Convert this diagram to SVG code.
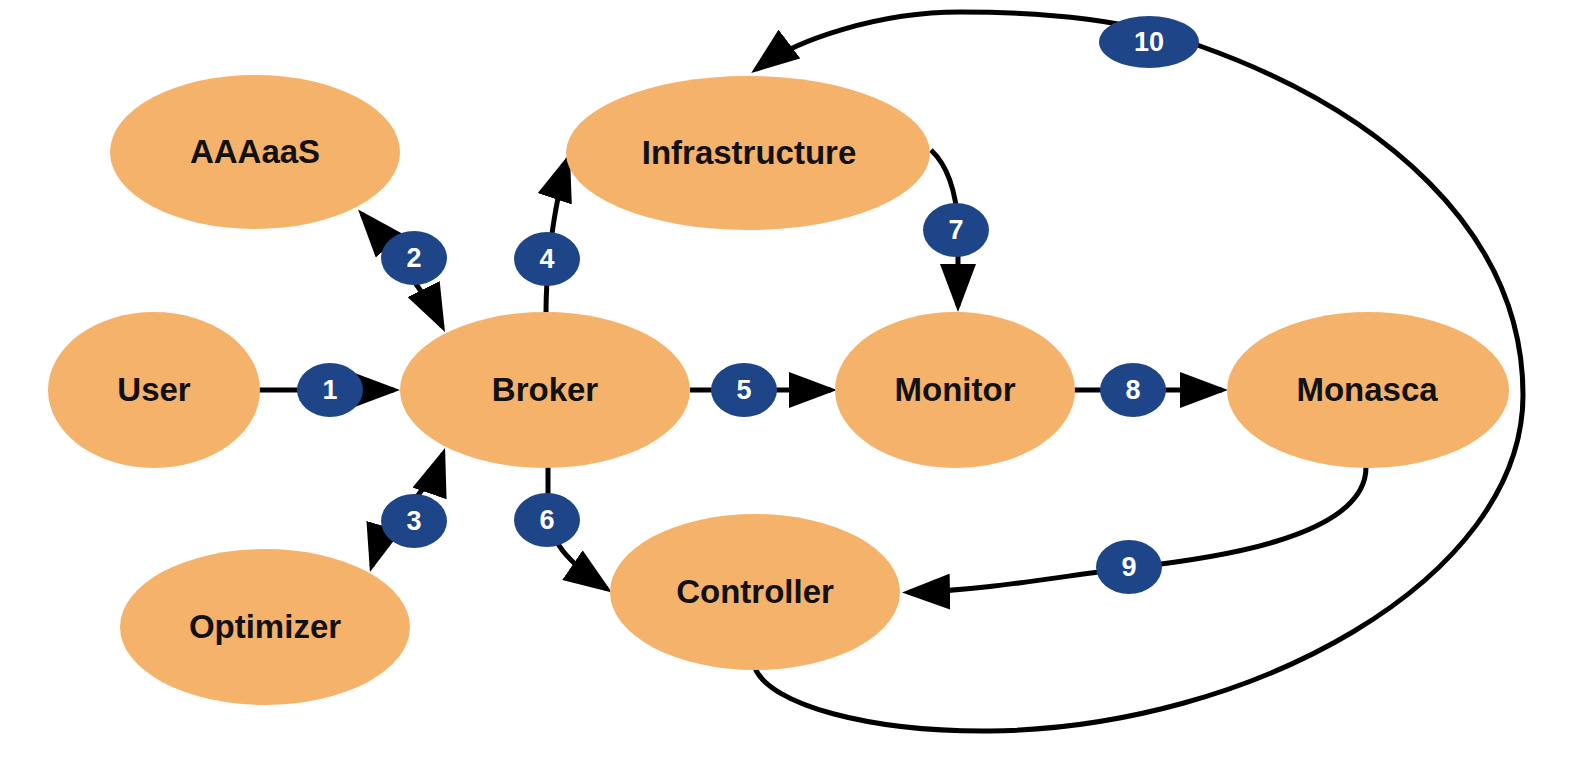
<svg xmlns="http://www.w3.org/2000/svg" width="1575" height="759" viewBox="0 0 1575 759">
<style>
.node{fill:#F5B26B}
.lbl{font-family:"Liberation Sans",Arial,sans-serif;font-weight:bold;font-size:33px;fill:#111;text-anchor:middle}
.badge{fill:#1E4588}
.num{font-family:"Liberation Sans",Arial,sans-serif;font-weight:bold;font-size:27px;fill:#fff;text-anchor:middle}
.edge{fill:none;stroke:#000;stroke-width:5}
</style>
<defs>
<marker id="arr" viewBox="0 0 48 36" refX="42" refY="18" markerWidth="48" markerHeight="36" markerUnits="userSpaceOnUse" orient="auto-start-reverse">
<path d="M0,0 L48,18 L0,36 z" fill="#000"/>
</marker>
</defs>
<rect width="1575" height="759" fill="#fff"/>

<g id="connectors">
<path id="e1" class="edge" d="M258,390 L394,390" marker-end="url(#arr)"/>
<path id="e2" class="edge" d="M362,214 C387,243 426.7,295.3 442.3,326.6" marker-start="url(#arr)" marker-end="url(#arr)"/>
<path id="e3" class="edge" d="M371.7,566.3 C381.7,532.8 431.8,486.8 443.1,453.7" marker-start="url(#arr)" marker-end="url(#arr)"/>
<path id="e4" class="edge" d="M546,312 C546,262 556,195 568,159" marker-end="url(#arr)"/>
<path id="e5" class="edge" d="M690,390 L831,390" marker-end="url(#arr)"/>
<path id="e6" class="edge" d="M548,466 L548,515 C550,540 565,560 607,589" marker-end="url(#arr)"/>
<path id="e7" class="edge" d="M931,150 C948,166 956,190 958,225 L958,306" marker-end="url(#arr)"/>
<path id="e8" class="edge" d="M1074,390 L1222,390" marker-end="url(#arr)"/>
<path id="e9" class="edge" d="M1366,466 C1368,540 1200,560 1128,568 C1050,578 980,591 908,592.5" marker-end="url(#arr)"/>
<path id="e10" class="edge" d="M755,668 C770,705 870,732 990,731 C1250,728 1523,580 1523,395 C1523,230 1380,110 1200,46 C1130,20 1050,12 960,12 C880,12 796,39 756,69.4" marker-end="url(#arr)"/>
</g>

<g id="node-aaaaas"><ellipse class="node" cx="255" cy="152" rx="145" ry="77"/><text class="lbl" x="255" y="163">AAAaaS</text></g>
<g id="node-infrastructure"><ellipse class="node" cx="748" cy="153" rx="182" ry="77"/><text class="lbl" x="749" y="164">Infrastructure</text></g>
<g id="node-user"><ellipse class="node" cx="154" cy="390" rx="106" ry="78"/><text class="lbl" x="154" y="401">User</text></g>
<g id="node-broker"><ellipse class="node" cx="545" cy="390" rx="145" ry="78"/><text class="lbl" x="545" y="401">Broker</text></g>
<g id="node-monitor"><ellipse class="node" cx="955" cy="390" rx="120" ry="78"/><text class="lbl" x="955" y="401">Monitor</text></g>
<g id="node-monasca"><ellipse class="node" cx="1368" cy="390" rx="141" ry="78"/><text class="lbl" x="1367" y="401">Monasca</text></g>
<g id="node-optimizer"><ellipse class="node" cx="265" cy="627" rx="145" ry="78"/><text class="lbl" x="265" y="638">Optimizer</text></g>
<g id="node-controller"><ellipse class="node" cx="755" cy="592" rx="145" ry="78"/><text class="lbl" x="755" y="603">Controller</text></g>

<g id="badges">
<g id="b1"><ellipse class="badge" cx="330" cy="390" rx="33" ry="27"/><text class="num" x="330" y="399">1</text></g>
<g id="b2"><ellipse class="badge" cx="414" cy="258" rx="33" ry="27"/><text class="num" x="414" y="267">2</text></g>
<g id="b3"><ellipse class="badge" cx="414" cy="521" rx="33" ry="27"/><text class="num" x="414" y="530">3</text></g>
<g id="b4"><ellipse class="badge" cx="547" cy="259" rx="33" ry="27"/><text class="num" x="547" y="268">4</text></g>
<g id="b5"><ellipse class="badge" cx="744" cy="390" rx="33" ry="27"/><text class="num" x="744" y="399">5</text></g>
<g id="b6"><ellipse class="badge" cx="547" cy="520" rx="33" ry="27"/><text class="num" x="547" y="529">6</text></g>
<g id="b7"><ellipse class="badge" cx="956" cy="230" rx="33" ry="27"/><text class="num" x="956" y="239">7</text></g>
<g id="b8"><ellipse class="badge" cx="1133" cy="390" rx="33" ry="27"/><text class="num" x="1133" y="399">8</text></g>
<g id="b9"><ellipse class="badge" cx="1129" cy="567" rx="33" ry="27"/><text class="num" x="1129" y="576">9</text></g>
<g id="b10"><ellipse class="badge" cx="1149" cy="42" rx="50" ry="26"/><text class="num" x="1149" y="51">10</text></g>
</g>
</svg>
